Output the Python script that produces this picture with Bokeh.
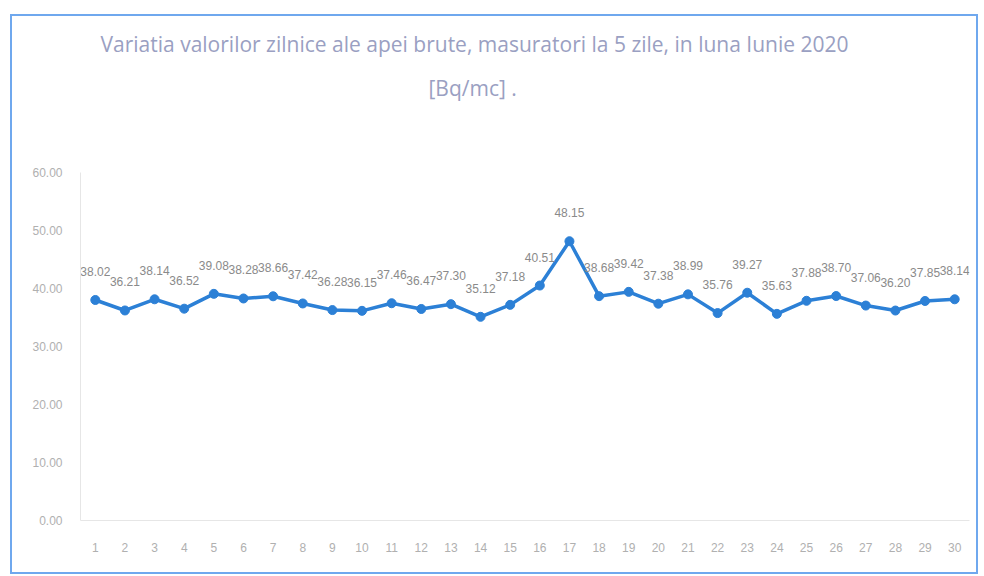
from bokeh.plotting import figure
from bokeh.models import ColumnDataSource, Title, NumeralTickFormatter, Range1d, FactorRange
from bokeh.embed import file_html
from bokeh.resources import INLINE
from bokeh.core.properties import value

days = [str(i) for i in range(1, 31)]
radon = [38.02, 36.21, 38.14, 36.52, 39.08, 38.28, 38.66, 37.42, 36.28, 36.15,
         37.46, 36.47, 37.30, 35.12, 37.18, 40.51, 48.15, 38.68, 39.42, 37.38,
         38.99, 35.76, 39.27, 35.63, 37.88, 38.70, 37.06, 36.20, 37.85, 38.14]
labels = ["%.2f" % v for v in radon]

title_line1 = "Variatia valorilor zilnice ale apei brute, masuratori la 5 zile, in luna Iunie 2020"
title_line2 = "[Bq/mc] ."

src = ColumnDataSource(dict(x=days, y=radon, lab=labels))

p = figure(width=968, height=560, x_range=FactorRange(*days), y_range=Range1d(0, 60),
           output_backend="svg", toolbar_location=None,
           min_border_left=68, min_border_right=11, min_border_bottom=56)
p.margin = (14, 0, 0, 10)
p.styles = {"border": "2px solid #6fa8ee"}

p.title.visible = False
# spacer closest to the frame
p.add_layout(Title(text=" ", text_font_size="16px", standoff=49), "above")
p.add_layout(Title(text=title_line2, align="left", offset=348, text_font_size="21px",
                   text_font_style="normal", text_color="#9aa0c2",
                   text_font="Open Sans", standoff=5), "above")
p.add_layout(Title(text=title_line1, align="left", offset=20, text_font_size="21px",
                   text_font_style="normal", text_color="#9aa0c2",
                   text_font="Open Sans", standoff=23), "above")

p.line("x", "y", source=src, line_color="#2c80d6", line_width=3.5)
p.scatter("x", "y", source=src, size=9, fill_color="#2c80d6", line_color="#2c80d6")
p.text("x", "y", text="lab", source=src, text_align="center", text_baseline="bottom",
       y_offset=-24, text_font_size="12px", text_color="#8a8a8a",
       text_font=value("Liberation Sans"))

p.xgrid.visible = False
p.ygrid.visible = False
p.outline_line_color = None

p.yaxis.formatter = NumeralTickFormatter(format="0.00")
p.yaxis.ticker = [0, 10, 20, 30, 40, 50, 60]
for ax in (p.xaxis[0], p.yaxis[0]):
    ax.axis_line_color = "#e6e6e6"
    ax.major_tick_line_color = None
    ax.minor_tick_line_color = None
    ax.major_label_text_color = "#b0b0b0"
    ax.major_label_text_font_size = "12px"
    ax.major_label_text_font = "Liberation Sans"
p.yaxis.major_label_standoff = 12
p.xaxis.major_label_standoff = 16

open("out.html", "w").write(file_html(p, INLINE))
